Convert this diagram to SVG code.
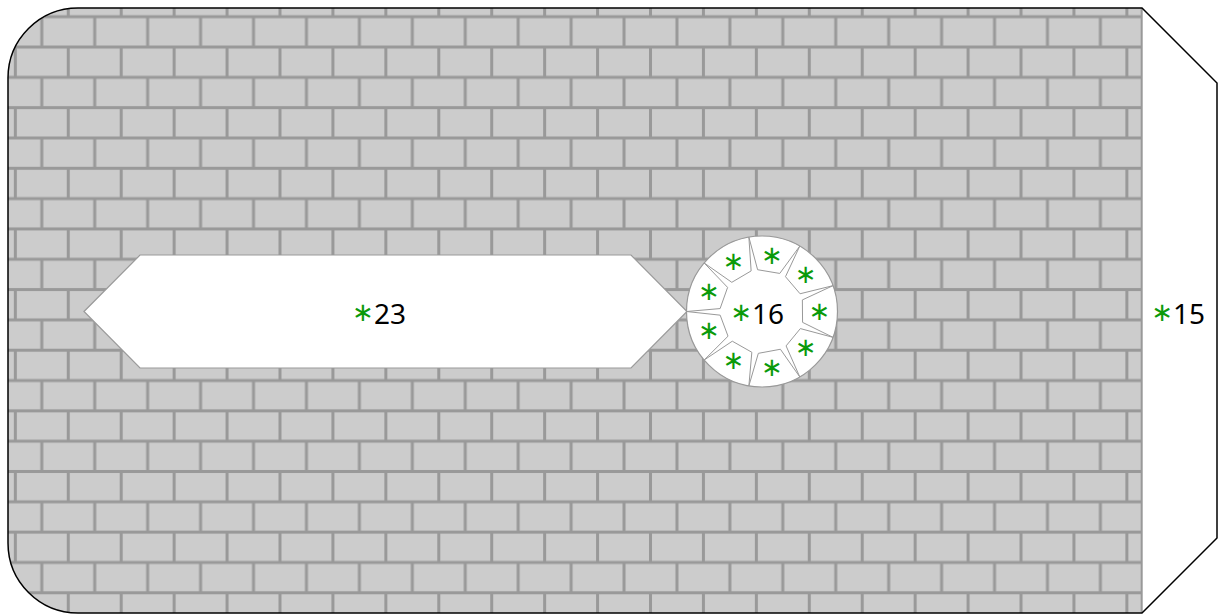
<svg xmlns="http://www.w3.org/2000/svg" width="1221" height="615" viewBox="0 0 1221 615">
<style>
.outline{fill:none;stroke:#000;stroke-width:1.5}
.shape{fill:#fff;stroke:#999;stroke-width:1.2}
.cell{fill:none;stroke:#999;stroke-width:1}
.ast{font-family:"DejaVu Sans",sans-serif;font-size:26px;fill:#0a9a0a;text-anchor:middle}
.lbl{font-family:"Noto Sans","Liberation Sans",sans-serif;font-size:28px;fill:#000}
.a{font-family:"DejaVu Sans",sans-serif;font-size:26px;fill:#0a9a0a}
</style>
<defs>
<pattern id="brick" patternUnits="userSpaceOnUse" x="41.8" y="16.7" width="52.93" height="60.64">
<rect width="52.93" height="60.64" fill="#ccc"/>
<g fill="#999">
<rect x="0" y="0" width="52.93" height="1.5"/>
<rect x="0" y="28.82" width="52.93" height="3"/>
<rect x="0" y="59.14" width="52.93" height="1.5"/>
<rect x="0" y="0" width="1.5" height="30.32"/>
<rect x="51.43" y="0" width="1.5" height="30.32"/>
<rect x="24.97" y="30.32" width="3" height="30.32"/>
</g>
</pattern>
<clipPath id="brickClip">
<path d="M78,8 H1142 V613 H78 A70,70 0 0 1 8,543 V78 A70,70 0 0 1 78,8 Z"/>
</clipPath>
</defs>
<g id="node-15">
<path d="M78,8 H1142 L1217,83 V538 L1142,613 H78 A70,70 0 0 1 8,543 V78 A70,70 0 0 1 78,8 Z" fill="#fff"/>
<rect x="0" y="0" width="1142" height="615" fill="url(#brick)" clip-path="url(#brickClip)"/>
<line x1="1141.7" y1="8" x2="1141.7" y2="613" stroke="#999" stroke-width="2"/>
<path class="outline" d="M78,8 H1142 L1217,83 V538 L1142,613 H78 A70,70 0 0 1 8,543 V78 A70,70 0 0 1 78,8 Z"/>
<text class="lbl" x="1151.3" y="324"><tspan class="a" dy="-3">∗</tspan><tspan dy="3">15</tspan></text>
</g>
<g id="node-23">
<polygon class="shape" points="84,311.5 140,255 631,255 687,311.5 631,368 140,368"/>
<text class="lbl" x="352.1" y="324"><tspan class="a" dy="-3">∗</tspan><tspan dy="3">23</tspan></text>
</g>
<g id="node-16">
<circle class="shape" cx="762" cy="311.5" r="75.5"/>
<polyline class="cell" points="748.89,237.15 757.61,269.73 779.75,273.43 799.75,246.12"/>
<polyline class="cell" points="799.75,246.12 785.49,276.68 800.07,293.75 832.95,285.68"/>
<polyline class="cell" points="832.95,285.68 802.37,299.92 802.57,322.37 832.95,337.32"/>
<polyline class="cell" points="832.95,337.32 800.37,328.58 786.09,345.90 799.75,376.88"/>
<polyline class="cell" points="799.75,376.88 780.41,349.25 758.34,353.34 748.89,385.85"/>
<polyline class="cell" points="748.89,385.85 751.84,352.25 732.30,341.20 704.16,360.03"/>
<polyline class="cell" points="704.16,360.03 728.02,336.19 720.16,315.16 686.5,311.5"/>
<polyline class="cell" points="686.5,311.5 720.10,308.57 727.60,287.41 704.16,262.97"/>
<polyline class="cell" points="704.16,262.97 731.79,282.32 751.13,270.93 748.89,237.15"/>
<text class="ast" x="771.9" y="263.5">∗</text>
<text class="ast" x="805.7" y="283">∗</text>
<text class="ast" x="819.5" y="319.5">∗</text>
<text class="ast" x="805.7" y="356">∗</text>
<text class="ast" x="771.9" y="375.5">∗</text>
<text class="ast" x="733.5" y="369">∗</text>
<text class="ast" x="709" y="339">∗</text>
<text class="ast" x="709" y="300">∗</text>
<text class="ast" x="733.5" y="270">∗</text>
<text class="lbl" x="730.3" y="324"><tspan class="a" dy="-3">∗</tspan><tspan dy="3">16</tspan></text>
</g>
<g id="connectors"/>
</svg>
